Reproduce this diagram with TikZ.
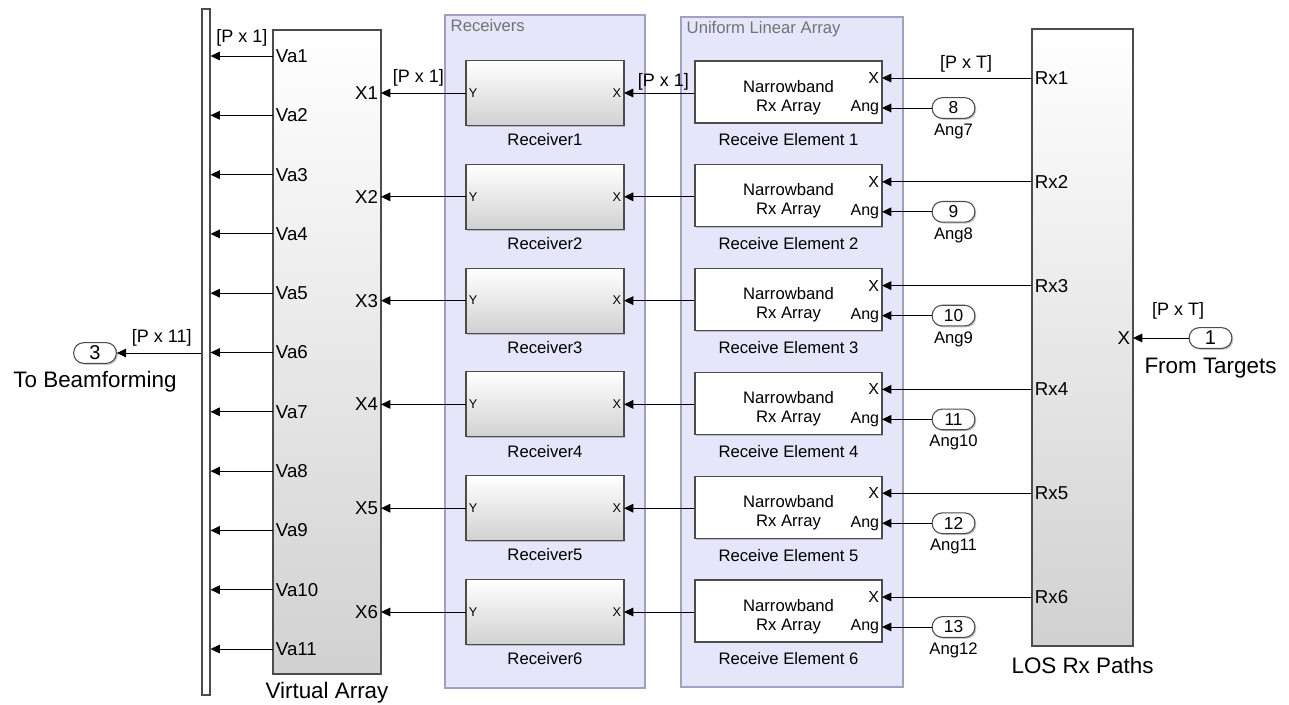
\documentclass[tikz,border=0pt]{standalone}
\usepackage{fontspec}
\setmainfont{Liberation Sans}
\usepackage{xcolor}
\usetikzlibrary{arrows.meta,positioning,shadows}
\definecolor{grpfill}{RGB}{230,230,251}
\definecolor{grpline}{RGB}{160,160,195}

\begin{document}
\begin{tikzpicture}[x=0.75pt,y=-0.75pt,
  shd/.style={drop shadow={shadow xshift=1.1pt,shadow yshift=-1.1pt,fill=black!50,opacity=0.45}},
  blk/.style={draw=black!70, line width=0.8pt, inner sep=0pt, shd},
  gblk/.style={blk, top color=white, middle color=black!4, bottom color=black!18},
  grp/.style={draw=grpline, fill=grpfill, line width=0.8pt, inner sep=0pt, shd},
  io/.style={blk, fill=white, rounded corners=7.5pt, minimum width=32pt, minimum height=15.5pt, font=\fontsize{13}{13}\selectfont},
  port/.style={inner sep=2pt, font=\fontsize{14}{14}\selectfont},
  sport/.style={inner sep=2pt, font=\fontsize{12}{12}\selectfont},
  tport/.style={inner sep=2pt, font=\fontsize{9.5}{9.5}\selectfont},
  lbl/.style={inner sep=1.5pt, font=\fontsize{12.5}{14}\selectfont},
  biglbl/.style={inner sep=1.5pt, font=\fontsize{16.8}{18}\selectfont},
  dim/.style={inner sep=1pt, font=\fontsize{13.5}{14}\selectfont},
  sig/.style={draw=black, line width=0.75pt, -{Triangle[length=7pt,width=6.5pt]}}
]
\useasboundingbox (0,0) rectangle (1289,704);

% subsystem areas
\node[grp, minimum width=150pt, minimum height=504.75pt] (rcvgrp) at (545,351.5) {};
\node[grp, minimum width=166.5pt, minimum height=502.5pt] (ulagrp) at (792,352) {};
\node[lbl, anchor=north west, text=black!55, xshift=3pt, yshift=-2pt] (rcvgrpname) at (rcvgrp.north west) {Receivers};
\node[lbl, anchor=north west, text=black!55, xshift=3pt, yshift=-2pt] (ulagrpname) at (ulagrp.north west) {Uniform Linear Array};

% big blocks
\node[blk, fill=white, minimum width=6pt, minimum height=514.5pt] (bus) at (206,352) {};
\node[gblk, minimum width=81pt, minimum height=483pt] (varr) at (327,352) {};
\node[biglbl, below=4pt of varr] (varrname) {Virtual Array};
\node[gblk, minimum width=75.75pt, minimum height=462.75pt] (los) at (1082.5,337.5) {};
\node[biglbl, below=6pt of los] (losname) {LOS Rx Paths};

% rows
\foreach \i in {1,...,6}{
  \pgfmathsetmacro\yy{93+(\i-1)*103.8}
  \pgfmathtruncatemacro\num{\i+7}
  \pgfmathtruncatemacro\ang{\i+6}
  \node[gblk, minimum width=118.5pt, minimum height=48.75pt] (rcv\i) at (545,\yy) {};
  \node[lbl, below=4pt of rcv\i] (rcvname\i) {Receiver\i};
  \node[tport, anchor=west] (rcvy\i) at (466,\yy) {Y};
  \node[tport, anchor=east] (rcvx\i) at (624,\yy) {X};
  \node[blk, fill=white, minimum width=140.25pt, minimum height=46.5pt,
        label={[align=center, font=\fontsize{12.5}{14.25}\selectfont, yshift=-4pt]center:Narrowband\\Rx Array}] (re\i) at (788.5,\yy-1) {};
  \node[lbl, below=6pt of re\i] (rename\i) {Receive Element \i};
  \node[sport, anchor=east] (rex\i) at (882,\yy-15) {X};
  \node[sport, anchor=east] (reang\i) at (882,\yy+15) {Ang};
  \node[port, anchor=west] (losrx\i) at (1032,\yy-15) {Rx\i};
  \node[io] (angin\i) at (953.5,\yy+15) {\num};
  \node[lbl, below=2pt of angin\i] (angname\i) {Ang\ang};
  \node[port, anchor=east] (vx\i) at (381,\yy) {X\i};
  \draw[sig] (rcvy\i.west) -- (vx\i.east);
  \draw[sig] (re\i.west |- rcvx\i.east) -- (rcvx\i.east);
  \draw[sig] (losrx\i.west) -- (rex\i.east);
  \draw[sig] (angin\i.west) -- (reang\i.east);
}

% virtual array outputs
\foreach \k in {1,...,11}{
  \pgfmathsetmacro\yv{56+(\k-1)*59.3}
  \node[port, anchor=west] (va\k) at (273,\yv) {Va\k};
  \draw[sig] (va\k.west) -- (bus.east |- va\k.west);
}

% signal sizes
\path (va1.west) -- (bus.east |- va1.west) node[dim, midway, above=6pt] (dimva) {[P x 1]};
\path (rcvy1.west) -- (vx1.east) node[dim, pos=0.56, above=4pt] (dimvx) {[P x 1]};
\path (re1.west |- rcvx1.east) -- (rcvx1.east) node[dim, pos=0.44, above=1pt] (dimre) {[P x 1]};
\path (losrx1.west) -- (rex1.east) node[dim, pos=0.44, above=3pt] (dimrx) {[P x T]};

% ports
\node[io, font=\fontsize{15}{15}\selectfont] (out3) at (95,353) {3};
\node[biglbl, below=4pt of out3] (outname) {To Beamforming};
\draw[sig] (bus.west |- out3) -- (out3.east) node[dim, pos=0.47, above=4pt] (dimout) {[P x 11]};
\node[io, font=\fontsize{15}{15}\selectfont] (in1) at (1210.5,338) {1};
\node[biglbl, below=5pt of in1] (inname) {From Targets};
\node[port, anchor=east] (losx) at (1133,338) {X};
\draw[sig] (in1.west) -- (losx.east) node[dim, pos=0.19, above=13pt] (dimin) {[P x T]};
\end{tikzpicture}
\end{document}
